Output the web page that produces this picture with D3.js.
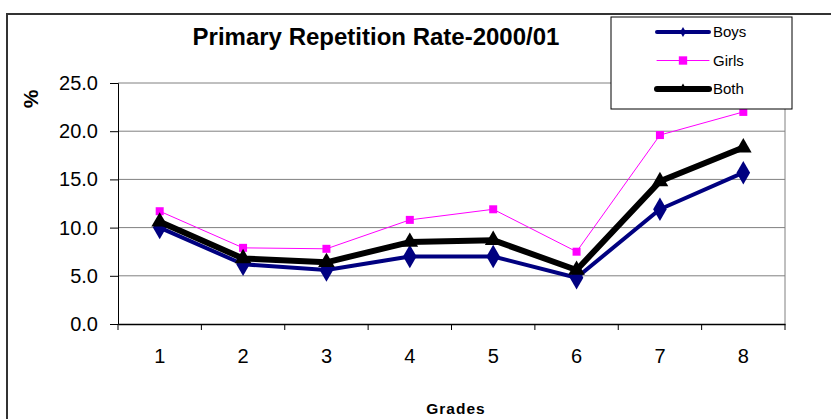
<!DOCTYPE html>
<html>
<head>
<meta charset="utf-8">
<script src="https://cdn.jsdelivr.net/npm/d3@7"></script>
<style>
  body { margin: 0; background: #fff; }
  svg text { font-family: "Liberation Sans", Arial, sans-serif; }
</style>
</head>
<body>
<svg width="831" height="419"></svg>
<script>
  const grades = ['1', '2', '3', '4', '5', '6', '7', '8'];
  const boys = [10.0, 6.2, 5.6, 7.0, 7.0, 4.8, 11.9, 15.7];
  const girls = [11.7, 7.9, 7.8, 10.8, 11.9, 7.5, 19.6, 22.0];
  const both = [10.6, 6.8, 6.4, 8.5, 8.7, 5.6, 14.8, 18.3];
  const yTicks = [0, 5, 10, 15, 20, 25];

  const titleText = 'Primary Repetition Rate-2000/01';
  const xAxisLabelText = 'Grades';
  const yAxisLabelText = '%';

  const svg = d3.select('svg');
  const width = +svg.attr('width');
  const height = +svg.attr('height');

  // chart frame (runs off the right and bottom edges)
  svg.append('rect')
    .attr('x', 7).attr('y', 14)
    .attr('width', width).attr('height', height)
    .attr('fill', '#fff')
    .attr('stroke', '#333')
    .attr('stroke-width', 2);

  const margin = { top: 83, left: 118, right: 46, bottom: 95 };
  const innerWidth = width - margin.left - margin.right;
  const innerHeight = height - margin.top - margin.bottom;

  const xScale = d3.scaleBand()
    .domain(grades)
    .range([0, innerWidth]);

  const yScale = d3.scaleLinear()
    .domain([0, 25])
    .range([innerHeight, 0]);

  const g = svg.append('g')
    .attr('transform', `translate(${margin.left},${margin.top})`);

  // gridlines
  g.append('g')
    .selectAll('line').data(yTicks.filter(d => d > 0))
    .enter().append('line')
      .attr('x1', 0).attr('x2', innerWidth)
      .attr('y1', d => yScale(d)).attr('y2', d => yScale(d))
      .attr('stroke', '#808080');

  g.append('line')
    .attr('x1', innerWidth).attr('x2', innerWidth)
    .attr('y1', 0).attr('y2', innerHeight)
    .attr('stroke', '#808080');

  // axis lines and ticks from d3, labels drawn below
  const yAxisG = g.append('g')
    .call(d3.axisLeft(yScale).tickValues(yTicks).tickFormat('').tickSize(8));
  yAxisG.select('.domain').attr('stroke', '#000');

  const xAxisG = g.append('g')
    .attr('transform', `translate(0,${innerHeight})`)
    .call(d3.axisBottom(xScale).tickFormat('').tickSize(6).tickSizeOuter(0));
  xAxisG.select('.domain').attr('stroke', '#000').attr('stroke-width', 1.5);
  // ticks sit on the band boundaries
  xAxisG.selectAll('.tick line')
    .attr('x1', -xScale.bandwidth() / 2)
    .attr('x2', -xScale.bandwidth() / 2);
  xAxisG.append('line')
    .attr('x1', innerWidth).attr('x2', innerWidth)
    .attr('y1', 0).attr('y2', 6)
    .attr('stroke', '#000');

  g.selectAll('.y-label').data(yTicks)
    .enter().append('text')
      .attr('class', 'y-label')
      .attr('x', -20)
      .attr('y', d => yScale(d) + 7)
      .attr('text-anchor', 'end')
      .style('font-size', '20px')
      .text(d3.format('.1f'));

  g.selectAll('.x-label').data(grades)
    .enter().append('text')
      .attr('class', 'x-label')
      .attr('x', d => xScale(d) + xScale.bandwidth() / 2)
      .attr('y', innerHeight + 39)
      .attr('text-anchor', 'middle')
      .style('font-size', '20px')
      .text(d => d);

  const xValue = (d, i) => xScale(grades[i]) + xScale.bandwidth() / 2;

  const series = [
    { name: 'Boys', values: boys, color: '#000080', width: 4, marker: d3.symbolDiamond, size: 160, legendSize: 30 },
    { name: 'Girls', values: girls, color: '#FF00FF', width: 1, marker: d3.symbolSquare, size: 64, legendSize: 70 },
    { name: 'Both', values: both, color: '#000000', width: 6, marker: d3.symbolTriangle, size: 120, legendSize: 40 }
  ];

  const line = d3.line()
    .x(xValue)
    .y(d => yScale(d));

  series.forEach(s => {
    g.append('path')
      .datum(s.values)
      .attr('fill', 'none')
      .attr('stroke', s.color)
      .attr('stroke-width', s.width)
      .attr('stroke-linejoin', 'round')
      .attr('d', line);

    g.selectAll('.m-' + s.name).data(s.values)
      .enter().append('path')
        .attr('class', 'm-' + s.name)
        .attr('transform', (d, i) => `translate(${xValue(d, i)},${yScale(d)})`)
        .attr('d', d3.symbol().type(s.marker).size(s.size))
        .attr('fill', s.color);
  });

  // title and axis labels
  svg.append('text')
    .attr('x', 376).attr('y', 45)
    .attr('text-anchor', 'middle')
    .style('font-size', '24px')
    .attr('font-weight', 'bold')
    .text(titleText);

  svg.append('text')
    .attr('x', 456).attr('y', 414)
    .attr('text-anchor', 'middle')
    .style('font-size', '15.5px')
    .style('letter-spacing', '1px')
    .attr('font-weight', 'bold')
    .text(xAxisLabelText);

  svg.append('text')
    .attr('transform', 'translate(38,99) rotate(-90)')
    .attr('text-anchor', 'middle')
    .style('font-size', '21px')
    .attr('font-weight', 'bold')
    .text(yAxisLabelText);

  // legend
  const legend = svg.append('g').attr('transform', 'translate(611,17)');
  legend.append('rect')
    .attr('width', 181).attr('height', 92)
    .attr('fill', '#fff')
    .attr('stroke', '#000');

  const legendY = d3.scalePoint()
    .domain(series.map(s => s.name))
    .range([15, 72]);

  const item = legend.selectAll('.item').data(series)
    .enter().append('g')
      .attr('class', 'item')
      .attr('transform', s => `translate(0,${legendY(s.name)})`);

  item.append('line')
    .attr('x1', 46).attr('x2', 98)
    .attr('stroke', s => s.color)
    .attr('stroke-width', s => s.width)
    .attr('stroke-linecap', 'round');

  item.append('path')
    .attr('transform', 'translate(72,0)')
    .attr('d', s => d3.symbol().type(s.marker).size(s.legendSize)())
    .attr('fill', s => s.color);

  item.append('text')
    .attr('x', 102).attr('y', 5)
    .style('font-size', '15px')
    .text(s => s.name);
</script>
</body>
</html>
